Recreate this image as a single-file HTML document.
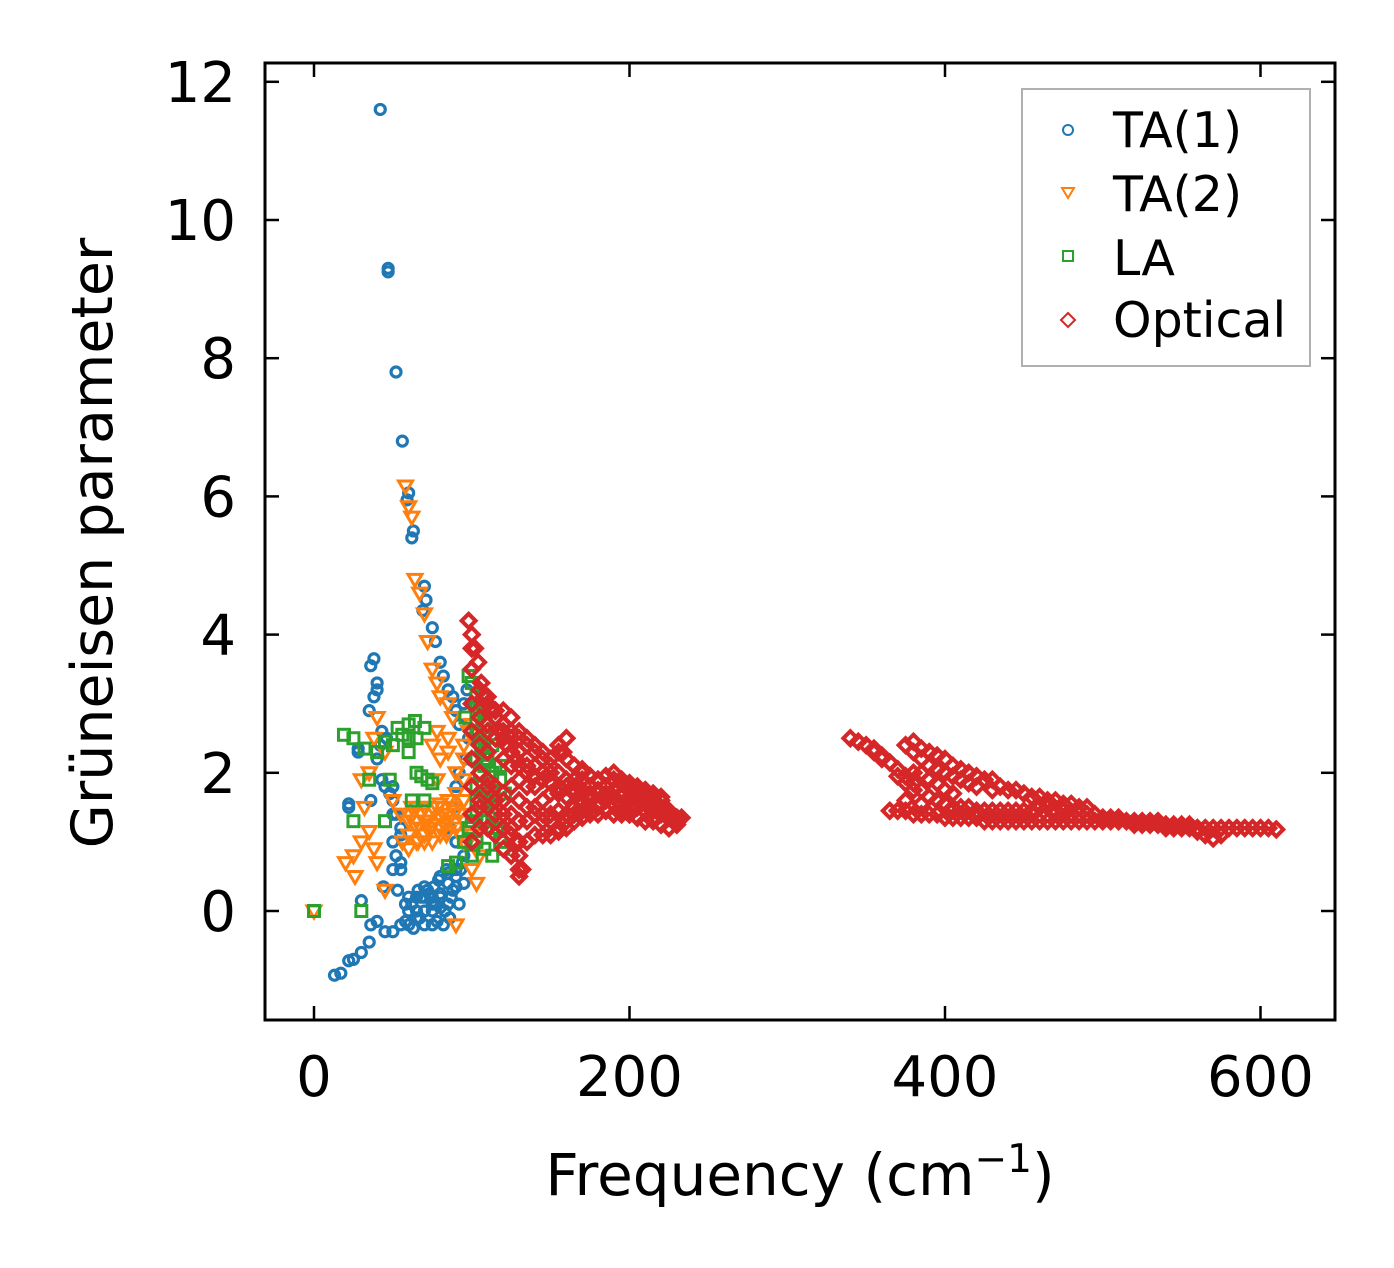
<!DOCTYPE html>
<html><head><meta charset="utf-8"><style>
body{margin:0;background:#fff}
svg{display:block}
text{font-family:"DejaVu Sans","Liberation Sans",sans-serif;fill:#000}
</style></head><body>
<svg id="chart" width="1394" height="1268">
<g id="marks"></g>
<rect x="265" y="63" width="1070" height="957" fill="none" stroke="#000" stroke-width="3"/>
<g id="axes"></g>
<text x="800" y="1195" font-size="58" text-anchor="middle">Frequency (cm<tspan dy="-23" font-size="39">−1</tspan><tspan dy="23">)</tspan></text>
<text transform="translate(112,543) rotate(-90)" font-size="57" text-anchor="middle">Grüneisen parameter</text>
<g>
<rect x="1022" y="89" width="288" height="277" fill="#fff" stroke="#b0b0b0" stroke-width="2"/>
<circle cx="1068" cy="130" r="5" fill="none" stroke="#1f77b4" stroke-width="2"/>
<text x="1113" y="147" font-size="49">TA(1)</text>
<path d="M1062,188 L1074,188 L1068,198 Z" fill="none" stroke="#ff7f0e" stroke-width="2"/>
<text x="1113" y="211" font-size="49">TA(2)</text>
<rect x="1063" y="251" width="10" height="10" fill="none" stroke="#2ca02c" stroke-width="2"/>
<text x="1113" y="275" font-size="49">LA</text>
<path d="M1068,313 L1075,320 L1068,327 L1061,320 Z" fill="none" stroke="#d62728" stroke-width="2"/>
<text x="1113" y="337" font-size="49">Optical</text>
</g>
</svg>
<script>
const xTicks=[0,200,400,600];
const yTicks=[0,2,4,6,8,10,12];
const ta1=[[42,11.6],[47,9.3],[47,9.25],[52,7.8],[56,6.8],[60,6.05],[59,5.95],[63,5.5],[62,5.4],[70,4.7],[71,4.5],[69,4.35],[75,4.1],[77,3.9],[80,3.6],[82,3.4],[85,3.2],[88,3.1],[90,2.9],[92,2.7],[95,3.0],[97,3.2],[98,2.5],[96,2.2],[92,2.0],[90,1.8],[88,1.5],[86,1.2],[90,1.0],[95,0.8],[93,0.6],[38,3.65],[36,3.55],[40,3.3],[38,3.1],[40,3.2],[35,2.9],[43,2.6],[46,2.5],[42,2.4],[28,2.35],[28,2.3],[40,2.2],[43,1.9],[45,1.8],[48,1.7],[50,1.6],[36,1.6],[22,1.5],[22,1.55],[52,1.4],[55,1.2],[50,1.0],[52,0.8],[55,0.6],[53,0.3],[44,0.35],[30,0.15],[40,-0.15],[36,-0.2],[45,-0.3],[35,-0.45],[30,-0.6],[25,-0.7],[22,-0.72],[17,-0.9],[13,-0.93],[50,-0.3],[55,-0.2],[60,0.0],[62,0.1],[65,-0.1],[68,0.2],[70,0.0],[72,0.3],[75,0.1],[78,-0.15],[80,0.2],[83,0.0],[85,0.4],[88,0.3],[90,0.5],[92,0.1],[70,-0.2],[76,0.35],[82,-0.2],[86,-0.1],[63,-0.25],[58,-0.15],[66,0.3],[73,0.25],[79,0.45],[94,0.7],[84,0.6],[80,0.5],
[60,-0.2],[60,0.2],[65,0.0],[65,0.2],[70,0.2],[70,0.35],[75,-0.2],[75,0.0],[75,0.2],[80,0.05],[80,0.25],[85,0.1],[85,0.55],[90,0.35],[90,0.6],[95,0.4],[50,0.6],[50,1.4],[50,1.8],[55,0.7],[55,1.1],[58,0.1],[67,-0.1],[77,0.1],[87,0.2]];
const ta2=[[58,6.15],[60,5.85],[62,5.7],[64,4.8],[67,4.6],[70,4.3],[72,3.9],[75,3.5],[78,3.3],[80,3.1],[85,3.0],[88,2.8],[75,2.4],[80,2.2],[85,2.5],[95,2.4],[98,2.6],[100,2.7],[40,2.8],[38,2.5],[45,2.3],[30,1.9],[35,2.0],[32,1.5],[50,1.6],[55,1.4],[60,1.3],[65,1.2],[70,1.1],[75,1.0],[80,1.2],[85,1.3],[90,1.2],[95,1.0],[100,1.1],[62,1.5],[68,1.4],[72,1.3],[78,1.5],[82,1.4],[88,1.5],[92,1.4],[66,1.0],[74,1.2],[84,1.1],[35,1.15],[38,0.9],[30,1.0],[25,0.8],[20,0.7],[26,0.5],[40,0.7],[45,0.3],[0,0.0],[90,-0.2],[100,0.6],[105,0.8],[103,0.4],[56,1.0],[60,0.9],
[60,1.1],[60,1.4],[65,1.0],[65,1.3],[65,1.5],[70,1.0],[70,1.3],[70,1.5],[75,1.25],[75,1.5],[80,1.1],[80,1.35],[80,1.55],[85,1.15],[85,1.4],[85,1.6],[90,1.45],[90,1.7],[90,2.0],[95,1.3],[95,1.6],[95,1.9],[95,2.2],[78,2.6],[78,1.9],[85,2.3],[73,1.15],[83,1.25],[93,1.1]];
const la=[[0,0.0],[30,0.0],[19,2.55],[25,2.5],[32,2.35],[40,2.3],[45,2.45],[50,2.4],[53,2.65],[56,2.55],[60,2.7],[64,2.75],[70,2.65],[25,1.3],[35,1.9],[45,1.3],[48,1.9],[68,1.95],[72,1.9],[75,1.85],[70,1.6],[62,1.6],[98,3.4],[100,3.3],[103,3.1],[105,2.9],[104,2.6],[106,2.4],[108,2.3],[110,2.2],[105,2.0],[107,1.8],[110,1.7],[112,1.6],[115,1.5],[113,1.4],[116,1.2],[118,1.0],[120,0.9],[121,1.7],[118,1.9],[115,2.1],[103,1.6],[100,1.3],[98,1.2],[95,1.0],[100,0.8],[90,0.7],[85,0.65],[102,2.2],[108,2.7],[96,2.8],
[103,1.0],[103,1.4],[103,1.8],[103,2.2],[103,2.6],[103,3.0],[108,0.9],[108,1.3],[108,1.7],[108,2.1],[108,2.5],[108,2.9],[113,0.8],[113,1.2],[113,1.6],[113,2.0],[113,2.4],[118,1.3],[118,1.7],[118,2.1],[60,2.3],[60,2.5],[65,2.0],[65,2.5]];
const optical=[[98,4.2],[100,4.0],[102,3.8],[100,3.5],[104,3.6],[106,3.3],[108,3.1],[110,3.0],[112,2.9],[115,2.8],[118,2.6],[120,2.5],[122,2.4],[125,2.3],[128,2.2],[130,2.1],[135,2.0],[140,1.95],[145,1.9],[150,1.85],[155,1.8],[160,1.8],[165,1.75],[170,1.75],[175,1.7],[180,1.7],[185,1.7],[190,1.65],[195,1.65],[200,1.6],[205,1.6],[210,1.55],[215,1.5],[220,1.45],[225,1.4],[230,1.3],[233,1.35],[110,2.6],[115,2.9],[120,2.7],[125,2.6],[130,2.5],[135,2.4],[140,2.3],[145,2.2],[150,2.1],[155,2.4],[160,2.5],[158,2.3],[165,2.1],[170,2.0],[175,1.95],[180,1.9],[185,1.95],[190,2.0],[195,1.9],[200,1.85],[205,1.8],[210,1.75],[215,1.7],[220,1.65],[105,1.5],[110,1.8],[115,1.6],[120,1.4],[125,1.2],[128,1.0],[130,0.8],[132,0.6],[130,0.5],[135,1.3],[140,1.5],[145,1.4],[150,1.3],[155,1.2],[160,1.3],[165,1.4],[170,1.45],[175,1.5],[180,1.5],[185,1.45],[190,1.4],[195,1.45],[200,1.4],[205,1.35],[210,1.3],[220,1.25],[225,1.2],[230,1.25]];
const opticalCols=[[100,[1.0,1.4,1.8,2.2,2.6,3.0,3.8]],[105,[1.2,1.6,2.0,2.4,2.8,3.2]],[110,[1.2,1.5,1.9,2.3,2.7,3.1]],[115,[1.1,1.4,1.8,2.5,2.9]],[120,[0.9,1.2,1.6,2.2,2.6,2.9]],[125,[0.8,1.1,1.4,1.8,2.1,2.5,2.8]],[130,[0.6,1.0,1.3,1.6,1.9,2.3,2.6]],[135,[1.0,1.5,1.8,2.1,2.5]],[140,[1.1,1.4,1.8,2.1,2.4]],[145,[1.1,1.3,1.6,2.0,2.3]],[150,[1.1,1.4,1.7,2.0,2.2]],[155,[1.15,1.45,1.7,2.0,2.3]],[160,[1.2,1.4,1.65,1.9,2.2,2.5]],[165,[1.3,1.5,1.7,1.9,2.1]],[170,[1.35,1.55,1.7,1.9,2.05]],[175,[1.4,1.6,1.8,1.95]],[180,[1.4,1.55,1.75,1.9]],[185,[1.45,1.6,1.8,1.95]],[190,[1.4,1.55,1.75,1.9]],[195,[1.4,1.55,1.7,1.85]],[200,[1.4,1.5,1.65,1.8]],[205,[1.35,1.5,1.65,1.75]],[210,[1.3,1.45,1.6,1.7]],[215,[1.3,1.45,1.55,1.65]],[220,[1.25,1.4,1.5,1.6]],[225,[1.2,1.35,1.45]],[230,[1.25,1.35]],
[340,[2.5]],[345,[2.45]],[350,[2.4]],[355,[2.35,2.3]],[360,[2.25,2.2]],[365,[2.15,1.45]],[370,[2.05,1.95,1.45]],[375,[1.95,1.85,2.4,1.45,1.6]],[380,[1.85,1.75,2.45,2.3,1.4,2.0]],[385,[1.75,2.35,2.2,1.4,1.55,2.0]],[390,[1.65,2.3,2.1,1.4,1.9]],[395,[1.6,2.25,2.05,1.4,1.85]],[400,[1.55,2.2,2.0,1.35,1.75]],[405,[1.5,2.1,1.95,1.35,1.7]],[410,[1.5,2.05,1.9,1.35]],[415,[1.5,2.0,1.85,1.35]],[420,[1.45,1.95,1.8,1.35]],[425,[1.45,1.9,1.3]],[430,[1.45,1.9,1.75,1.3]],[435,[1.45,1.8,1.3]],[440,[1.45,1.75,1.3]],[445,[1.45,1.75,1.3]],[450,[1.45,1.7,1.3]],[455,[1.45,1.65,1.3]],[460,[1.5,1.65,1.3]],[465,[1.5,1.6,1.3]],[470,[1.45,1.6,1.3]],[475,[1.45,1.55,1.3]],[480,[1.4,1.55,1.3]],[485,[1.4,1.5,1.3]],[490,[1.4,1.5,1.3]],[495,[1.4,1.3]],[500,[1.35,1.3]],[505,[1.35,1.3]],[510,[1.35,1.3]],[515,[1.3]],[520,[1.3,1.25]],[525,[1.3,1.25]],[530,[1.3,1.25]],[535,[1.3,1.25]],[540,[1.25,1.2]],[545,[1.25,1.2]],[550,[1.25,1.2]],[555,[1.25,1.2]],[560,[1.2,1.15]],[565,[1.2,1.1]],[570,[1.2,1.05]],[575,[1.2,1.1]],[580,[1.2]],[585,[1.2]],[590,[1.2]],[595,[1.2]],[600,[1.2]],[605,[1.2]],[610,[1.18]]];
const X=v=>314+v*1.5775, Y=v=>911-v*69.1;
const NS='http://www.w3.org/2000/svg';
const axes=document.getElementById('axes'), marks=document.getElementById('marks');
function el(t,a,p){const e=document.createElementNS(NS,t);for(const k in a)e.setAttribute(k,a[k]);p.appendChild(e);return e;}
xTicks.forEach(v=>{const x=X(v);
 const t=el('line',{x1:x,x2:x,y1:1020,y2:1006,stroke:'#000','stroke-width':2.5},axes);
 
 
 const t2=el('line',{x1:x,x2:x,y1:63,y2:77,stroke:'#000','stroke-width':2.5},axes);
 
 
 const l=el('text',{x:x,y:1096,'font-size':56,'text-anchor':'middle'},axes);l.textContent=v;
 
 });
yTicks.forEach(v=>{const y=Y(v);
 const t=el('line',{x1:265,x2:279,y1:y,y2:y,stroke:'#000','stroke-width':2.5},axes);
 
 
 const t2=el('line',{x1:1321,x2:1335,y1:y,y2:y,stroke:'#000','stroke-width':2.5},axes);
 
 
 const l=el('text',{x:236,y:y+20,'font-size':56,'text-anchor':'end'},axes);l.textContent=v;
 
 });
const optAll=optical.slice();
opticalCols.forEach(c=>c[1].forEach(g=>optAll.push([c[0],g])));
ta1.forEach(p=>{const m=el('circle',{cx:X(p[0]),cy:Y(p[1]),r:5,fill:'none',stroke:'#1f77b4','stroke-width':3.2},marks);
 
 });
ta2.forEach(p=>{const x=X(p[0]),y=Y(p[1]);
 const m=el('path',{d:`M${x-7},${y-5}L${x+7},${y-5}L${x},${y+7}Z`,fill:'none',stroke:'#ff7f0e','stroke-width':3},marks);
 
 });
la.forEach(p=>{const x=X(p[0]),y=Y(p[1]);
 const m=el('rect',{x:x-5.5,y:y-5.5,width:11,height:11,fill:'none',stroke:'#2ca02c','stroke-width':3},marks);
 
 });
optAll.forEach(p=>{const x=X(p[0]),y=Y(p[1]);
 const m=el('path',{d:`M${x},${y-7}L${x+7},${y}L${x},${y+7}L${x-7},${y}Z`,fill:'none',stroke:'#d62728','stroke-width':4},marks);
 
 });
</script>
</body></html>
